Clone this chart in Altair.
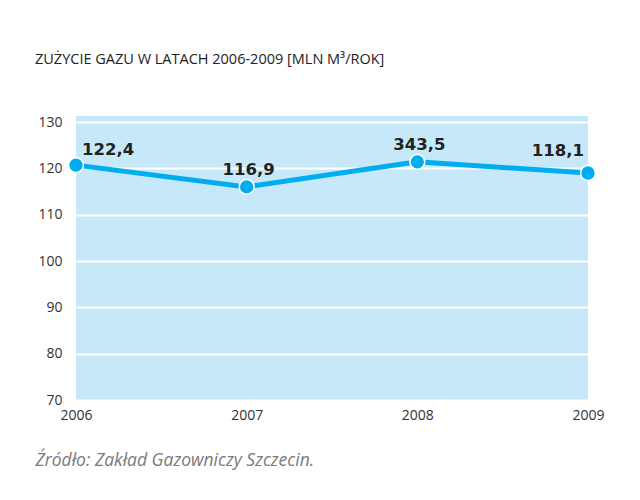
import altair as alt
import pandas as pd

years = ["2006", "2007", "2008", "2009"]
values = [120.7, 116.0, 121.4, 119.0]
labels = ["122,4", "116,9", "343,5", "118,1"]
y_ticks = [70, 80, 90, 100, 110, 120, 130]

df = pd.DataFrame({"year": years, "value": values, "label": labels})

LINE = "#00aeef"

x_enc = alt.X(
    "year:O",
    scale=alt.Scale(padding=0),
    axis=alt.Axis(
        labelAngle=0, labelFontSize=14, labelColor="#333333", labelFont="Open Sans",
        labelPadding=8, ticks=False, domain=False, grid=False,
        title="Źródło: Zakład Gazowniczy Szczecin.",
        titleFont="Open Sans", titleFontStyle="italic", titleFontWeight="normal",
        titleFontSize=17.5, titleColor="#7a7a7a", titleAnchor="start", titleAlign="left",
        titleX=-41, titleY=60, titleBaseline="middle",
    ),
)
y_enc = alt.Y(
    "value:Q",
    scale=alt.Scale(domain=[70, 131.3], nice=False, zero=False),
    axis=alt.Axis(
        values=y_ticks, labelFontSize=14, labelColor="#333333", labelFont="Open Sans",
        labelPadding=14, ticks=False, domain=False, grid=True, gridColor="white",
        gridWidth=2, title=None,
    ),
)

base = alt.Chart(df).encode(x=x_enc, y=y_enc)

line = base.mark_line(color=LINE, strokeWidth=5)
pts = base.mark_point(filled=True, shape="circle", size=220, color=LINE,
                      stroke="white", strokeWidth=1.5, opacity=1)

txt_style = dict(font="DejaVu Sans", fontWeight="bold", fontSize=16.5, color="#222222",
                 baseline="middle")
t_first = base.mark_text(align="left", dx=6, dy=-15, **txt_style).encode(text="label:N").transform_filter(
    alt.datum.year == years[0])
t_mid = base.mark_text(align="center", dx=2, dy=-17, **txt_style).encode(text="label:N").transform_filter(
    (alt.datum.year != years[0]) & (alt.datum.year != years[-1]))
t_last = base.mark_text(align="right", dx=-4, dy=-22, **txt_style).encode(text="label:N").transform_filter(
    alt.datum.year == years[-1])

chart = alt.layer(line, pts, t_first, t_mid, t_last).properties(
    width=512, height=284,
    title=alt.TitleParams(
        text="ZUŻYCIE GAZU W LATACH 2006-2009 [MLN M³/ROK]",
        anchor="start", frame="group", dx=-41, offset=48,
        font="Open Sans", fontSize=14.5, fontWeight="normal", color="#222222",
    ),
    autosize=alt.AutoSizeParams(type="none"),
    padding={"left": 68, "top": 108, "right": 44, "bottom": 80},
).configure(
    background="white",
    view=alt.ViewConfig(fill="#c6e8f8", stroke=None),
)

chart.save("out.html", embed_options={"renderer": "svg", "actions": False})
